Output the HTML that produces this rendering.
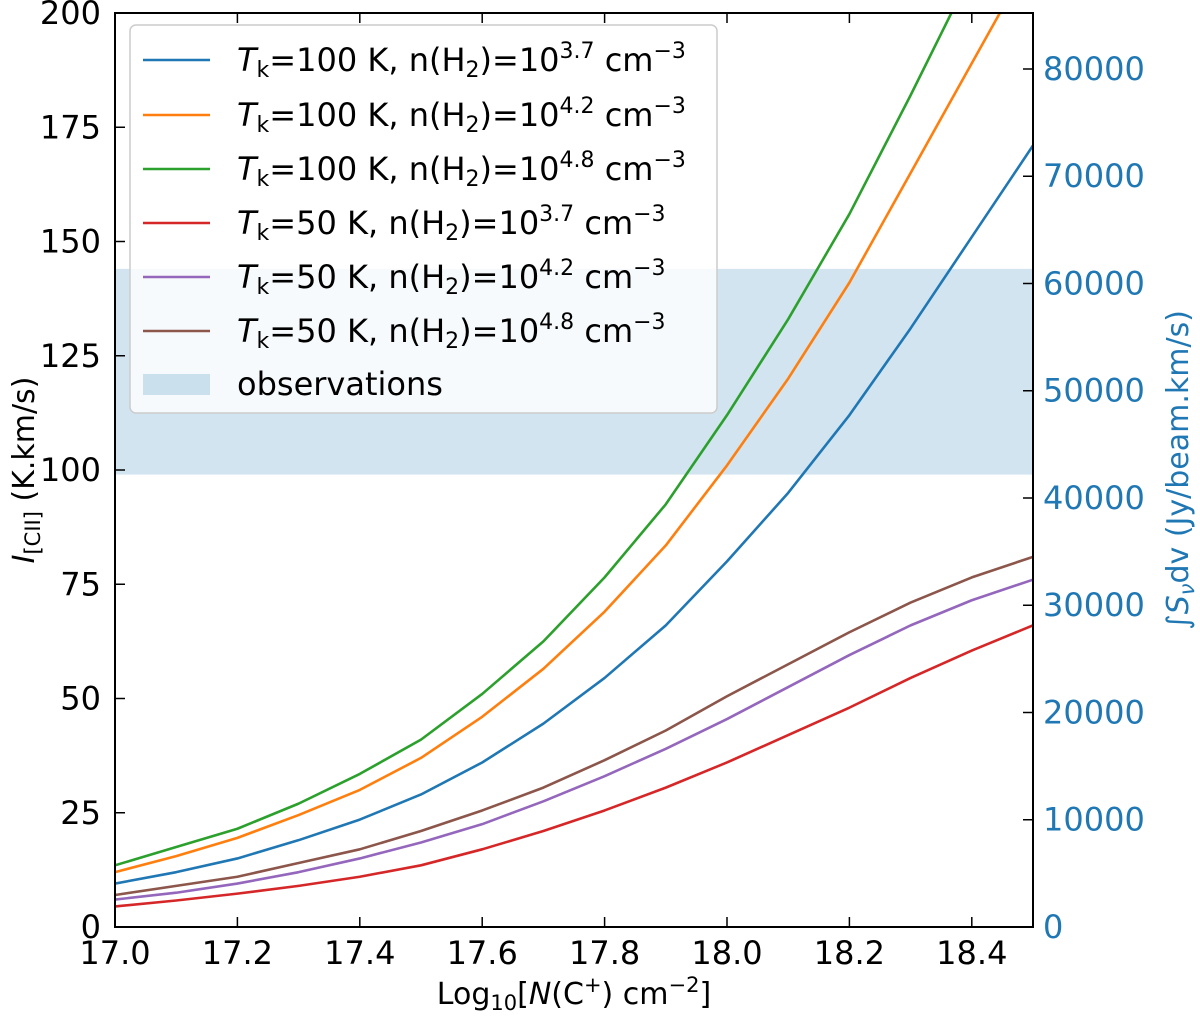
<!DOCTYPE html>
<html><head><meta charset="utf-8"><style>
body{margin:0;background:#fff}
svg{font-family:"DejaVu Sans","Liberation Sans",sans-serif}
</style></head><body>
<svg id="chart" width="1200" height="1015" viewBox="0 0 1200 1015">
<defs><clipPath id="clip"><rect x="115" y="13" width="918" height="914"/></clipPath></defs>
<g id="band"></g>
<g id="lines" clip-path="url(#clip)"></g>
<g id="axes"></g>
<g id="legend"></g>
</svg>
<script>
const xs=[17.0,17.1,17.2,17.3,17.4,17.5,17.6,17.7,17.8,17.9,18.0,18.1,18.2,18.3,18.4,18.5];
const blue=[9.5,12,15,19,23.5,29,36,44.5,54.5,66,80,95,112,131,151,171];
const orange=[12,15.5,19.5,24.5,30,37,46,56.5,69,83.5,101,120,141,165,189,213];
const green=[13.5,17.5,21.5,27,33.5,41,51,62.5,76.5,92.5,112,133,156,182,209,237];
const red=[4.5,5.8,7.3,9,11,13.5,17,21,25.5,30.5,36,42,48,54.5,60.5,66];
const purple=[6,7.5,9.5,12,15,18.5,22.5,27.5,33,39,45.5,52.5,59.5,66,71.5,76];
const brown=[7,9,11,14,17,21,25.5,30.5,36.5,43,50.5,57.5,64.5,71,76.5,81];
const obsRange=[99,144];
const xTicks=[17.0,17.2,17.4,17.6,17.8,18.0,18.2,18.4];
const yTicks=[0,25,50,75,100,125,150,175,200];
const y2Ticks=[0,10000,20000,30000,40000,50000,60000,70000,80000];
const X0=115,X1=1033,Y0=927,Y1=13;
const sx=v=>X0+(v-17)/(1.5)*(X1-X0);
const sy=v=>Y0-v/200*(Y0-Y1);
const sy2=v=>Y0-v/85221*(Y0-Y1);
const NS="http://www.w3.org/2000/svg";
function mk(t,a,p){const e=document.createElementNS(NS,t);for(const k in a)e.setAttribute(k,a[k]);p.appendChild(e);return e;}
const band=mk('rect',{x:X0,y:sy(obsRange[1]),width:X1-X0,height:sy(obsRange[0])-sy(obsRange[1]),fill:'#1f77b4','fill-opacity':0.2},document.getElementById('band'));


const series=[[blue,'#1f77b4','100','3.7'],[orange,'#ff7f0e','100','4.2'],[green,'#2ca02c','100','4.8'],[red,'#d62728','50','3.7'],[purple,'#9467bd','50','4.2'],[brown,'#8c564b','50','4.8']];
const lg=document.getElementById('lines');
series.forEach((s,i)=>{
 const p=mk('polyline',{points:xs.map((x,j)=>sx(x)+','+sy(s[0][j])).join(' '),fill:'none',stroke:s[1],'stroke-width':2.6,'stroke-linejoin':'round'},lg);
 
 
});
const ax=document.getElementById('axes');
xTicks.forEach(v=>{const x=sx(v);
 mk('line',{x1:x,x2:x,y1:Y0,y2:Y0-10,stroke:'#000','stroke-width':1.5},ax);
 mk('line',{x1:x,x2:x,y1:Y1,y2:Y1+10,stroke:'#000','stroke-width':1.5},ax);
 const t=mk('text',{x:x,y:964,'font-size':32,'text-anchor':'middle'},ax);t.textContent=v.toFixed(1);
 
 
});
yTicks.forEach(v=>{const y=sy(v);
 mk('line',{x1:X0,x2:X0+10,y1:y,y2:y,stroke:'#000','stroke-width':1.5},ax);
 const t=mk('text',{x:101,y:y+11,'font-size':32,'text-anchor':'end'},ax);t.textContent=v;
 
 
});
y2Ticks.forEach(v=>{const y=sy2(v);
 mk('line',{x1:X1,x2:X1-10,y1:y,y2:y,stroke:'#000','stroke-width':1.5},ax);
 const t=mk('text',{x:1043,y:y+11,'font-size':32,fill:'#1f77b4'},ax);t.textContent=v;
 
 
});
mk('rect',{x:X0,y:Y1,width:X1-X0,height:Y0-Y1,fill:'none',stroke:'#000','stroke-width':2},ax);
</script>
<svg style="position:absolute;left:0;top:0" width="1200" height="1015">
<text x="574" y="1004" font-size="30" text-anchor="middle" font-family="DejaVu Sans,sans-serif">Log<tspan font-size="21" dy="6">10</tspan><tspan dy="-6">[</tspan><tspan font-style="italic">N</tspan>(C<tspan font-size="21" dy="-12">+</tspan><tspan dy="12">) cm</tspan><tspan font-size="21" dy="-12">−2</tspan><tspan dy="12">]</tspan></text>
<text transform="translate(34,470) rotate(-90)" font-size="30" text-anchor="middle" font-family="DejaVu Sans,sans-serif"><tspan font-style="italic">I</tspan><tspan font-size="21" dy="6">[CII]</tspan><tspan dy="-6"> (K.km/s)</tspan></text>
<text transform="translate(1188,470) rotate(-90)" font-size="30" text-anchor="middle" fill="#1f77b4" font-family="DejaVu Sans,sans-serif">∫<tspan font-style="italic">S</tspan><tspan font-size="21" dy="6" font-style="italic">ν</tspan><tspan dy="-6">dv (Jy/beam.km/s)</tspan></text>
<g font-family="DejaVu Sans,sans-serif" font-size="32">
<rect x="130" y="25" width="587" height="388" rx="6" fill="#fff" fill-opacity="0.8" stroke="#ccc" stroke-width="1.5"/>
<g><line x1="143" x2="210" y1="60" y2="60" stroke="#1f77b4" stroke-width="2.6"/><text x="237" y="71"><tspan font-style="italic">T</tspan><tspan font-size="22" dy="6">k</tspan><tspan dy="-6">=100 K, n(H</tspan><tspan font-size="22" dy="6">2</tspan><tspan dy="-6">)=10</tspan><tspan font-size="22" dy="-13">3.7</tspan><tspan dy="13"> cm</tspan><tspan font-size="22" dy="-13">−3</tspan></text></g>
<g><line x1="143" x2="210" y1="115" y2="115" stroke="#ff7f0e" stroke-width="2.6"/><text x="237" y="126"><tspan font-style="italic">T</tspan><tspan font-size="22" dy="6">k</tspan><tspan dy="-6">=100 K, n(H</tspan><tspan font-size="22" dy="6">2</tspan><tspan dy="-6">)=10</tspan><tspan font-size="22" dy="-13">4.2</tspan><tspan dy="13"> cm</tspan><tspan font-size="22" dy="-13">−3</tspan></text></g>
<g><line x1="143" x2="210" y1="169" y2="169" stroke="#2ca02c" stroke-width="2.6"/><text x="237" y="180"><tspan font-style="italic">T</tspan><tspan font-size="22" dy="6">k</tspan><tspan dy="-6">=100 K, n(H</tspan><tspan font-size="22" dy="6">2</tspan><tspan dy="-6">)=10</tspan><tspan font-size="22" dy="-13">4.8</tspan><tspan dy="13"> cm</tspan><tspan font-size="22" dy="-13">−3</tspan></text></g>
<g><line x1="143" x2="210" y1="223" y2="223" stroke="#d62728" stroke-width="2.6"/><text x="237" y="234"><tspan font-style="italic">T</tspan><tspan font-size="22" dy="6">k</tspan><tspan dy="-6">=50 K, n(H</tspan><tspan font-size="22" dy="6">2</tspan><tspan dy="-6">)=10</tspan><tspan font-size="22" dy="-13">3.7</tspan><tspan dy="13"> cm</tspan><tspan font-size="22" dy="-13">−3</tspan></text></g>
<g><line x1="143" x2="210" y1="277" y2="277" stroke="#9467bd" stroke-width="2.6"/><text x="237" y="288"><tspan font-style="italic">T</tspan><tspan font-size="22" dy="6">k</tspan><tspan dy="-6">=50 K, n(H</tspan><tspan font-size="22" dy="6">2</tspan><tspan dy="-6">)=10</tspan><tspan font-size="22" dy="-13">4.2</tspan><tspan dy="13"> cm</tspan><tspan font-size="22" dy="-13">−3</tspan></text></g>
<g><line x1="143" x2="210" y1="331" y2="331" stroke="#8c564b" stroke-width="2.6"/><text x="237" y="342"><tspan font-style="italic">T</tspan><tspan font-size="22" dy="6">k</tspan><tspan dy="-6">=50 K, n(H</tspan><tspan font-size="22" dy="6">2</tspan><tspan dy="-6">)=10</tspan><tspan font-size="22" dy="-13">4.8</tspan><tspan dy="13"> cm</tspan><tspan font-size="22" dy="-13">−3</tspan></text></g>
<g><rect x="143" y="374" width="67" height="21" fill="#1f77b4" fill-opacity="0.2"/><text x="237" y="395">observations</text></g>
</g>
</svg>
</body></html>
